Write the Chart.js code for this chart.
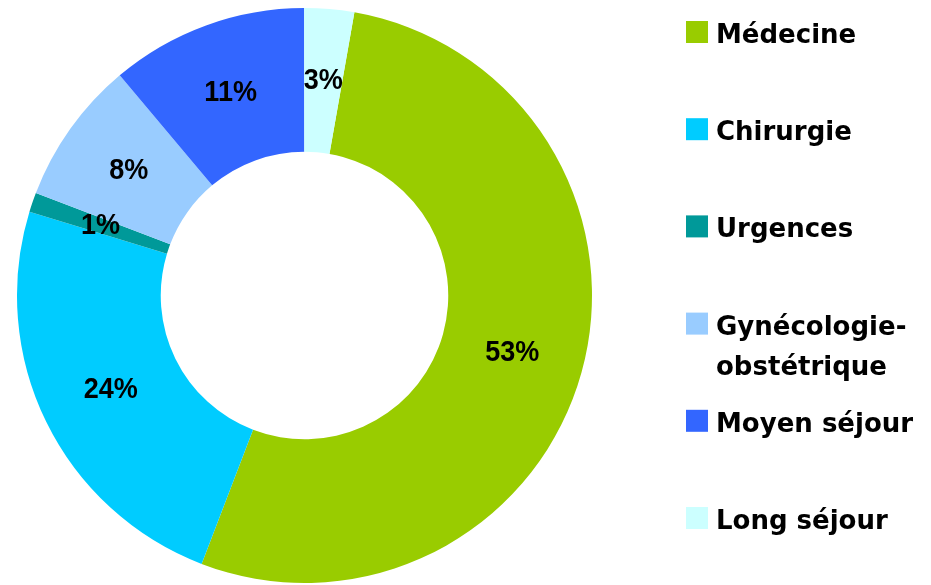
<!DOCTYPE html>
<html>
<head>
<meta charset="utf-8">
<script src="https://cdn.jsdelivr.net/npm/chart.js@4/dist/chart.umd.min.js"></script>
<style>
  html, body { margin: 0; padding: 0; background: #fff; }
  #wrap { width: 931px; height: 585px; position: relative; }
</style>
</head>
<body>
<div id="wrap"><canvas id="pie"></canvas></div>
<script>
// categories and shares (percent of total)
var categories = ['Médecine', 'Chirurgie', 'Urgences', ['Gynécologie-', 'obstétrique'], 'Moyen séjour', 'Long séjour'];
var shares = [53.1, 23.9, 1.1, 8.1, 11.1, 2.8];
var sliceColors = ['#99CC00', '#00CCFF', '#009999', '#99CCFF', '#3366FF', '#CCFFFF'];
var firstSliceAngle = 10;

// percent labels in the middle of each ring segment
var pctLabels = {
  id: 'pctLabels',
  afterDatasetsDraw: function(chart) {
    var ctx = chart.ctx;
    var data = chart.data.datasets[0].data;
    var total = data.reduce(function(a, b) { return a + b; }, 0);
    chart.getDatasetMeta(0).data.forEach(function(arc, i) {
      var p = arc.getCenterPoint();
      ctx.save();
      ctx.translate(p.x, p.y);
      ctx.scale(0.9, 1); // a bit narrower, like the original
      ctx.font = 'bold 30px "Liberation Sans", sans-serif';
      ctx.textAlign = 'center';
      ctx.textBaseline = 'middle';
      ctx.fillStyle = '#000';
      ctx.fillText(Math.round(data[i] / total * 100) + '%', 0, 0);
      ctx.restore();
    });
  }
};

// legend on the right, evenly spaced rows
var sideLegend = {
  id: 'sideLegend',
  afterDraw: function(chart) {
    var ctx = chart.ctx;
    var labels = chart.data.labels;
    var colors = chart.data.datasets[0].backgroundColor;
    var x = 686, top = 21, step = 97.2, box = 22;
    ctx.save();
    ctx.font = 'bold 26px "DejaVu Sans", sans-serif';
    ctx.textBaseline = 'alphabetic';
    ctx.textAlign = 'left';
    labels.forEach(function(lab, i) {
      var y = top + step * i;
      ctx.fillStyle = colors[i];
      ctx.fillRect(x, y, box, box);
      ctx.fillStyle = '#000';
      var lines = Array.isArray(lab) ? lab : [lab];
      lines.forEach(function(t, j) {
        ctx.fillText(t, x + 30, y + box + j * 40);
      });
    });
    ctx.restore();
  }
};

new Chart(document.getElementById('pie').getContext('2d'), {
  type: 'doughnut',
  data: {
    labels: categories,
    datasets: [{
      data: shares,
      backgroundColor: sliceColors,
      borderWidth: 0
    }]
  },
  options: {
    responsive: true,
    maintainAspectRatio: false,
    animation: false,
    rotation: firstSliceAngle,
    cutout: '50%',
    layout: { padding: { left: 17, top: 8, right: 339, bottom: 2 } },
    plugins: {
      legend: { display: false },
      tooltip: { enabled: false }
    }
  },
  plugins: [pctLabels, sideLegend]
});
</script>
</body>
</html>
